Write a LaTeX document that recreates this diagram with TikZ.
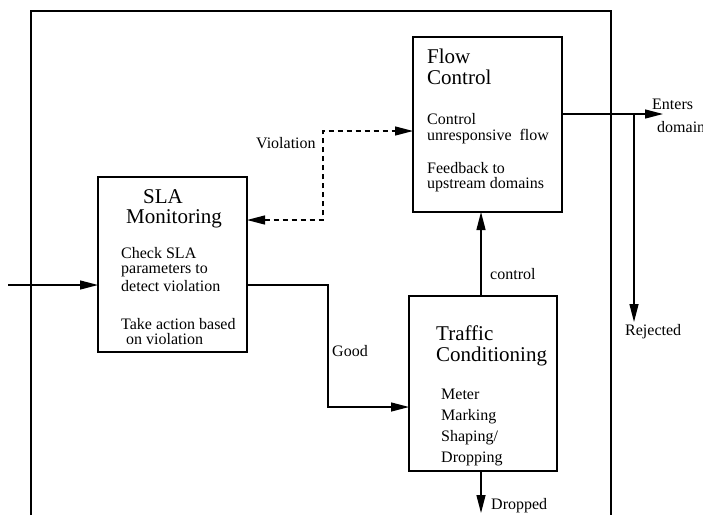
\documentclass[tikz,border=0pt]{standalone}
\usepackage{fontspec}
\setmainfont{Liberation Serif}
\usetikzlibrary{arrows.meta}

\tikzset{
  block/.style={draw, line width=1.3pt, anchor=north west, inner sep=0pt, outer sep=0pt},
  flow/.style={line width=1.3pt, -{Triangle[length=18pt,width=9pt]}},
  viol/.style={line width=1.3pt, dash pattern=on 5pt off 4pt, {Triangle[length=18pt,width=9pt]}-{Triangle[length=18pt,width=9pt]}},
  title/.style={anchor=base west, inner sep=0pt, font=\fontsize{21}{23}\selectfont},
  txt/.style={anchor=base west, inner sep=0pt, font=\fontsize{16}{17}\selectfont}
}

\begin{document}
\begin{tikzpicture}[x=1pt, y=-1pt]
		\useasboundingbox (0,0) rectangle (703,515);

		% domain border
		\draw[line width=1.3pt] (31,515) -- (31,11) -- (611,11) -- (611,515);

		% blocks
		\node[block, minimum width=149pt, minimum height=175pt] (fc) at (413,37) {};
		\node[block, minimum width=149pt, minimum height=175pt] (sla) at (98,177) {};
		\node[block, minimum width=148pt, minimum height=175pt] (tc) at (409,296) {};

		% flow control text
		\node[title] (fc-t1) at (427,63) {Flow};
		\node[title] (fc-t2) at (427,84) {Control};
		\foreach \t/\y [count=\i] in {Control/124, unresponsive\hspace{4pt} flow/140, Feedback to/173, upstream domains/188}
			\node[txt] (fc-\i) at (427,\y) {\t};

		% SLA monitoring text
		\node[title] (sla-t1) at (143,203) {SLA};
		\node[title] (sla-t2) at (126,223) {Monitoring};
		\foreach \t/\x/\y [count=\i] in {Check SLA/121/258, parameters to/121/273, detect violation/121/291, Take action based/121/329, on violation/126/344}
			\node[txt] (sla-\i) at (\x,\y) {\t};

		% traffic conditioning text
		\node[title] (tc-t1) at (436,340) {Traffic};
		\node[title] (tc-t2) at (436,361) {Conditioning};
		\foreach \t/\y [count=\i] in {Meter/399, Marking/420, {Shaping/}/441, Dropping/462}
			\node[txt] (tc-\i) at (441,\y) {\t};

		% connectors
		\coordinate (src) at (8,285);
		\draw[flow] (src) -- (src -| sla.west);

		\coordinate (exit) at (663,114);
		\draw[flow] (exit -| fc.east) -- (exit);
		\coordinate (rej) at (634,322);
		\draw[flow] (rej |- exit) -- (rej);

		\coordinate (vtop) at (323,131);
		\coordinate (vbot) at (323,220);
		\draw[viol] (vbot -| sla.east) -- (vbot) -- (vtop) -- (vtop -| fc.west);

		\coordinate (bend) at (328,407);
		\draw[flow] (sla.east |- src) -| (bend) -- (bend -| tc.west);

		\coordinate (ctl) at (481,0);
		\draw[flow] (ctl |- tc.north) -- (ctl |- fc.south);

		\coordinate (drop) at (481,513);
		\draw[flow] (drop |- tc.south) -- (drop);

		% labels
		\node[txt] (l-viol) at (256,148) {Violation};
		\node[txt] (l-good) at (332,356) {Good};
		\node[txt] (l-ctl) at (490,279) {control};
		\node[txt] (l-drop) at (491,509) {Dropped};
		\node[txt] (l-rej) at (625,335) {Rejected};
		\node[txt] (l-ent) at (652,109) {Enters};
		\node[txt] (l-dom) at (657,132) {domain};

\end{tikzpicture}
\end{document}
